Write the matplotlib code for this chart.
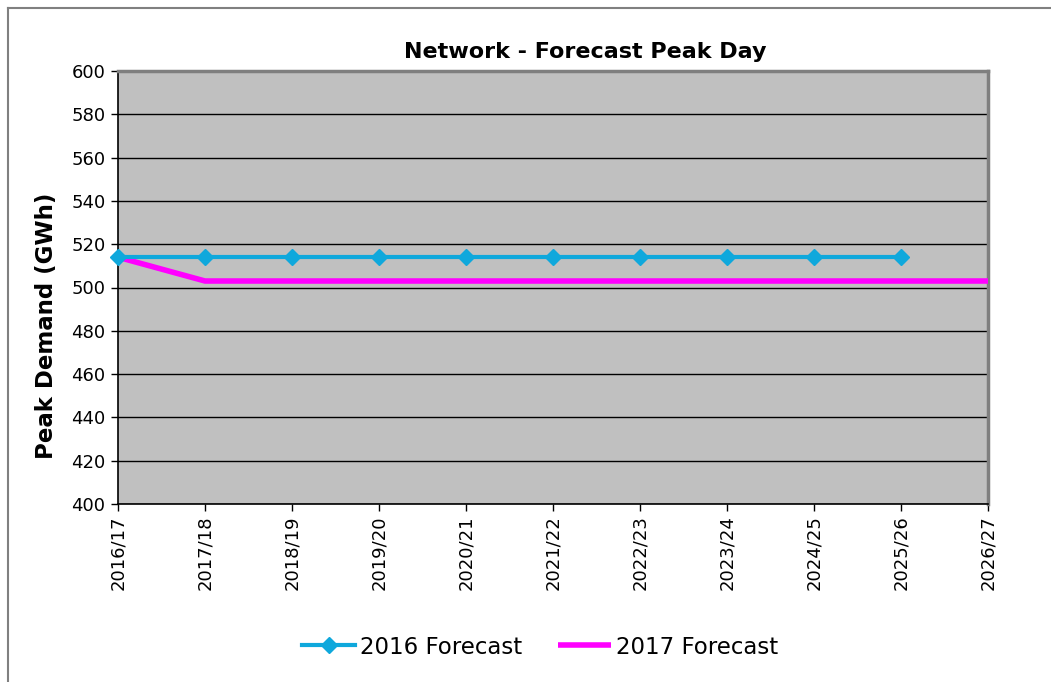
import matplotlib
matplotlib.use("Agg")
import matplotlib.pyplot as plt
from matplotlib.lines import Line2D

plt.rcParams['font.family'] = ['DejaVu Sans']

years = ["2016/17", "2017/18", "2018/19", "2019/20", "2020/21", "2021/22",
         "2022/23", "2023/24", "2024/25", "2025/26", "2026/27"]
forecast_2016 = [514, 514, 514, 514, 514, 514, 514, 514, 514, 514]
forecast_2017 = [514, 503, 503, 503, 503, 503, 503, 503, 503, 503, 503]
y_ticks = list(range(400, 601, 20))

W, H = 1051, 682
fig = plt.figure(figsize=(W / 100, H / 100), dpi=100)
fig.patch.set_facecolor("white")

left, right, top, bottom = 118, 988, 71, 504
ax = fig.add_axes([left / W, 1 - bottom / H, (right - left) / W, (bottom - top) / H])
ax.set_facecolor("#C0C0C0")

x16 = list(range(len(forecast_2016)))
x17 = list(range(len(forecast_2017)))
ax.plot(x16, forecast_2016, color="#0FA8DC", lw=3, marker="D", ms=8,
        label="2016 Forecast", zorder=4, clip_on=False)
ax.plot(x17, forecast_2017, color="#FF00FF", lw=4, label="2017 Forecast",
        zorder=3, clip_on=False, solid_capstyle="butt")

ax.set_xlim(0, len(years) - 1)
ax.set_ylim(400, 600)
ax.set_yticks(y_ticks)
ax.set_xticks(range(len(years)))
ax.set_xticklabels(years, rotation=90, fontsize=13)
ax.tick_params(axis="y", labelsize=13, length=5, width=1, direction="out", pad=4)
ax.tick_params(axis="x", length=5, width=1, direction="out", pad=3)
ax.grid(axis="y", color="black", lw=1)
ax.set_axisbelow(True)

for s in ("left", "bottom"):
    ax.spines[s].set_color("black")
    ax.spines[s].set_linewidth(1.2)
for s in ("top", "right"):
    ax.spines[s].set_color("#7F7F7F")
    ax.spines[s].set_linewidth(2.5)

fig.text(585 / W, 1 - 52 / H, "Network - Forecast Peak Day", ha="center",
         va="center", fontsize=16, fontweight="bold")
fig.text(47 / W, 1 - 326 / H, "Peak Demand (GWh)", ha="center", va="center",
         rotation=90, fontsize=16.5, fontweight="bold")

fig.legend(loc="center", bbox_to_anchor=(540 / W, 1 - 647 / H), ncol=2,
           frameon=False, fontsize=16.5, handlelength=2.3, handletextpad=0.2,
           columnspacing=1.6)

# chart frame edges
fig.add_artist(Line2D([8 / W, 1], [1 - 8 / H, 1 - 8 / H], color="#808080", lw=1.5))
fig.add_artist(Line2D([8 / W, 8 / W], [0, 1 - 8 / H], color="#808080", lw=1.5))

fig.savefig("out.png", dpi=100)
